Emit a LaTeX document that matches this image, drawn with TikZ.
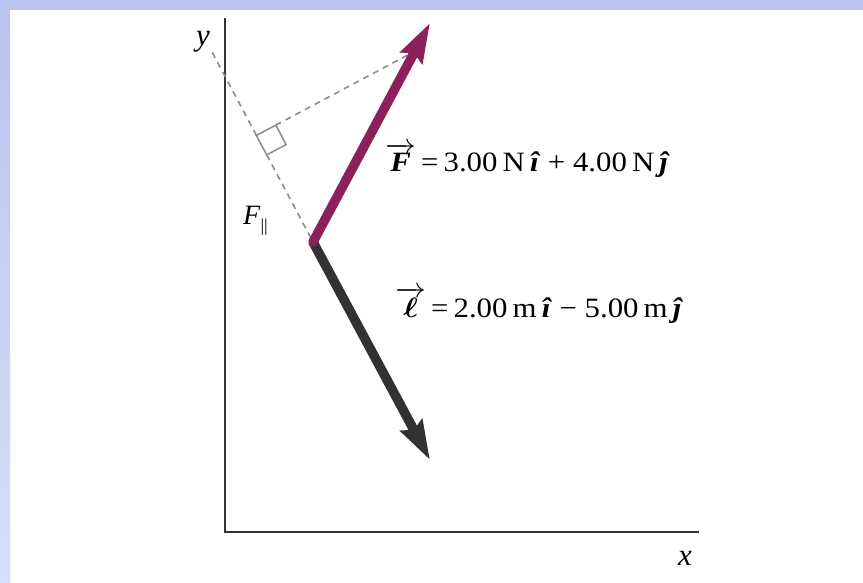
\RequirePackage{fix-cm}
\documentclass[tikz,border=0pt]{standalone}
\usepackage{amsmath}
\usepackage{bm}
\usepackage{graphicx}
\usepackage{fontspec}
\setmainfont{Liberation Serif}
\usetikzlibrary{arrows.meta,calc}
\definecolor{bandtop}{RGB}{186,195,238}
\definecolor{bandbot}{RGB}{214,222,250}
\definecolor{axisgray}{RGB}{51,51,51}
\definecolor{dashgray}{RGB}{140,140,140}
\definecolor{fcol}{RGB}{140,32,88}
\definecolor{lcol}{RGB}{50,50,50}
\newcommand{\hi}{\textbf{\textit{\^{\i}}}}
\newcommand{\hj}{\textbf{\textit{\^{\j}}}}
\tikzset{
  axisline/.style={draw=axisgray, line width=2pt},
  guide/.style={draw=dashgray, line width=1.6pt, dash pattern=on 6pt off 5pt},
  rightangle/.style={draw=dashgray, line width=1.5pt},
  vecarrow/.style={line width=9.5pt, -{Stealth[length=39pt, width=24pt, inset=5pt]}},
  lbl/.style={inner sep=0pt, font=\fontsize{28}{32}\selectfont},
  axlbl/.style={inner sep=0pt, font=\fontsize{31}{34}\selectfont\itshape}
}
\begin{document}
\begin{tikzpicture}[x=1pt,y=-1pt]
\useasboundingbox (0,0) rectangle (863,583);
\fill[white] (0,0) rectangle (863,583);
\shade[top color=bandtop, bottom color=bandbot] (0,0) rectangle (10,583);
\fill[bandtop] (0,0) rectangle (863,10);

% axes
\coordinate (Ytop) at (225,18);
\coordinate (O) at (225,532);
\coordinate (Xend) at (699,532);
\draw[axisline] (Ytop) -- (O) -- (Xend);
\node[axlbl, anchor=base west] (ylab) at (196,46) {y};
\node[axlbl, anchor=base west] (xlab) at (678,565) {x};

% key points
\coordinate (J) at (313,242);
\coordinate (Ft) at (430,23);
\coordinate (Lt) at (430,460);
\coordinate (Yd) at (211,50);
\coordinate (P) at ($(J)!0.555!(Yd)$);
\coordinate (Q) at ($(P)+(151.9,-80.7)$);
\coordinate (A) at ($(P)!22pt!(J)$);
\coordinate (C) at ($(P)!22pt!(Q)$);
\coordinate (B) at ($(A)+(C)-(P)$);

% guides
\draw[guide] (A) -- (J);
\draw[guide] (P) -- (Yd);
\draw[guide] (C) -- (Q);
\draw[rightangle] (P) -- (A) -- (B) -- (C) -- cycle;

% vectors
\draw[vecarrow, draw=lcol, fill=lcol] (J) -- (Lt);
\draw[vecarrow, draw=fcol, fill=fcol, line cap=round] (J) -- (Ft);

% labels
\node[lbl, anchor=base west] (Flab) at (385,172)
  {\scalebox{1.1}[1]{$\overrightarrow{\mbox{\textbf{\textit{F}}}}$\,=\,3.00\,N\,\hi\ + 4.00\,N\,\hj}};
\node[lbl, anchor=base west] (Llab) at (395,317)
  {\scalebox{1.1}[1]{$\overrightarrow{\bm{\ell}}$\,=\,2.00\,m\,\hi\ − 5.00\,m\,\hj}};
\node[lbl, anchor=base west] (Fpar) at (243,225) {\textit{F}\raisebox{-7pt}{\fontsize{18}{20}\selectfont||}};
\end{tikzpicture}
\end{document}
